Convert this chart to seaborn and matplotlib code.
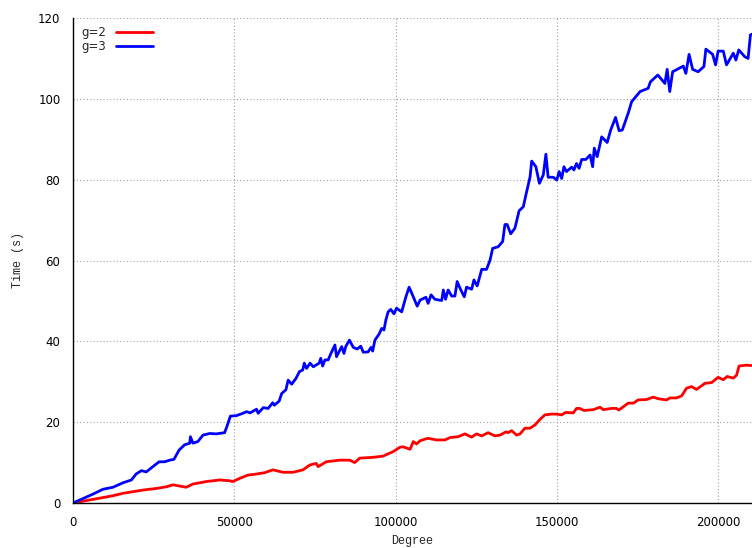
import numpy as np
import pandas as pd
import matplotlib
matplotlib.use("Agg")
import matplotlib.pyplot as plt
import seaborn as sns

# values
g2_degree = [0, 4100, 8300, 12400, 15500, 18600, 21700, 25800, 28900, 31000,
             33000, 35100, 37200, 41300, 45500, 48600, 49500, 51700, 54200, 56300,
             59400, 62000, 65100, 68200, 71300, 73400, 75400, 76000, 78500, 82700,
             85800, 87300, 88900, 93000, 96100, 99200, 101400, 102300, 103800, 104500,
             105500, 106500, 107600, 109100, 110100, 112700, 115300, 116900, 119400, 121500,
             123600, 125100, 126700, 128700, 130800, 132400, 134200, 134900, 136000, 137500,
             138600, 140100, 141700, 143200, 144800, 146300, 148400, 149900, 151500, 152700,
             155100, 156100, 157100, 158400, 161300, 163400, 164400, 167000, 168500, 169200,
             170600, 172100, 173700, 175200, 177800, 179900, 181400, 184000, 185100, 187100,
             188700, 190200, 191800, 193300, 195900, 198000, 200000, 201600, 202800, 204700,
             205700, 206500, 208800, 210500]
g2_time = [0, 0.6, 1.2, 1.8, 2.4, 2.8, 3.2, 3.6, 4.0, 4.5,
           4.2, 3.9, 4.7, 5.3, 5.7, 5.5, 5.3, 6.1, 6.9, 7.1,
           7.5, 8.2, 7.6, 7.6, 8.2, 9.4, 9.8, 9.0, 10.2, 10.6,
           10.6, 10.0, 11.1, 11.3, 11.6, 12.7, 13.8, 13.9, 13.5, 13.3,
           15.2, 14.6, 15.4, 15.8, 16.0, 15.6, 15.6, 16.2, 16.4, 17.1,
           16.3, 17.1, 16.6, 17.4, 16.6, 16.8, 17.6, 17.4, 17.9, 16.8,
           17.1, 18.5, 18.5, 19.3, 20.7, 21.8, 22.0, 22.0, 21.8, 22.4,
           22.3, 23.4, 23.4, 22.9, 23.1, 23.7, 23.1, 23.4, 23.4, 23.0,
           23.8, 24.7, 24.7, 25.5, 25.6, 26.2, 25.8, 25.5, 26.0, 26.0,
           26.5, 28.4, 28.8, 28.1, 29.6, 29.8, 31.1, 30.5, 31.3, 30.9,
           31.6, 33.9, 34.1, 34.0]

g3_degree = [0, 3100, 6200, 9300, 12400, 15500, 18100, 19600, 21200, 22700,
             24800, 26700, 28400, 30000, 31300, 32900, 34600, 36200, 36400, 37200,
             38700, 40300, 42400, 44400, 47000, 47700, 48800, 50600, 52700, 53800,
             54900, 56900, 57400, 59000, 60500, 61900, 62400, 63900, 64700, 66000,
             66700, 67800, 69100, 70200, 71200, 71700, 72400, 73500, 74500, 76300,
             76800, 77400, 78100, 79100, 79900, 81200, 81700, 83300, 84000, 84600,
             85700, 86900, 88100, 89200, 90000, 91500, 92400, 92900, 93600, 94900,
             95700, 96400, 97000, 97700, 98500, 99500, 100300, 101900, 103200, 104200,
             105500, 106700, 107600, 109400, 110100, 111000, 112200, 114300, 114800, 115500,
             116300, 117400, 118400, 119100, 120000, 121300, 122000, 123600, 124300, 125300,
             126700, 128200, 129300, 130100, 131800, 133200, 133900, 134600, 135700, 137000,
             138300, 139600, 140400, 141700, 142200, 143500, 144600, 145800, 146600, 147300,
             148900, 150000, 150700, 151500, 152200, 153000, 154600, 155300, 156100, 156900,
             157700, 159000, 160300, 161100, 161600, 162500, 163900, 165600, 166700, 168200,
             169300, 170300, 172100, 173200, 175800, 178300, 179000, 181300, 183500, 184200,
             185000, 185900, 189200, 190000, 191000, 192100, 193800, 195600, 196200, 198300,
             199200, 200000, 201600, 202600, 204700, 205500, 206400, 208300, 209300, 210000,
             210500]
g3_time = [0, 1.1, 2.2, 3.4, 3.9, 5.0, 5.7, 7.2, 8.0, 7.7,
           9.0, 10.2, 10.2, 10.6, 10.8, 13.1, 14.4, 14.8, 16.4, 14.8,
           15.2, 16.8, 17.2, 17.1, 17.4, 18.9, 21.5, 21.6, 22.2, 22.6,
           22.3, 23.2, 22.2, 23.6, 23.4, 24.8, 24.2, 25.2, 27.1, 28.0,
           30.4, 29.4, 30.8, 32.5, 32.9, 34.6, 33.3, 34.6, 33.7, 34.6,
           35.8, 33.9, 35.4, 35.4, 36.9, 39.1, 36.2, 38.7, 37.0, 38.8,
           40.3, 38.5, 38.1, 38.8, 37.3, 37.4, 38.5, 37.6, 40.3, 41.8,
           43.2, 42.8, 45.3, 47.3, 47.9, 46.8, 48.2, 47.3, 51.0, 53.4,
           51.0, 48.7, 50.2, 50.9, 49.4, 51.5, 50.4, 50.1, 52.7, 50.4,
           52.7, 51.2, 51.2, 54.8, 53.1, 51.0, 53.4, 52.9, 55.2, 53.7,
           57.8, 57.8, 60.1, 63.0, 63.4, 64.7, 68.9, 68.9, 66.6, 68.0,
           72.3, 73.3, 76.2, 80.7, 84.6, 83.2, 79.1, 81.2, 86.3, 80.6,
           80.6, 79.9, 82.0, 80.3, 83.2, 82.0, 83.1, 82.4, 84.0, 82.8,
           85.0, 85.0, 86.1, 83.2, 87.8, 85.7, 90.6, 89.2, 92.3, 95.4,
           92.1, 92.3, 96.4, 99.3, 101.8, 102.6, 104.2, 105.9, 103.8, 107.3,
           101.8, 106.7, 108.1, 106.3, 111.0, 107.3, 106.7, 108.0, 112.3, 111.0,
           108.4, 111.8, 111.8, 108.4, 111.3, 109.6, 112.1, 110.4, 110.0, 115.8,
           116.0]

x_ticks = [0, 50000, 100000, 150000, 200000]
y_ticks = [0, 20, 40, 60, 80, 100, 120]

df = pd.concat([
    pd.DataFrame({"Degree": g2_degree, "Time": g2_time, "g": "g=2"}),
    pd.DataFrame({"Degree": g3_degree, "Time": g3_time, "g": "g=3"}),
])

sns.set_style("white")
plt.rcParams["font.family"] = ["DejaVu Sans"]

fig = plt.figure(figsize=(7.52, 5.48), dpi=100)
ax = fig.add_axes([73 / 752, 1 - 503 / 548, 1 - 73 / 752, (503 - 18) / 548])

sns.lineplot(data=df, x="Degree", y="Time", hue="g", sort=False,
             palette={"g=2": "#ff0000", "g=3": "#0000ff"}, linewidth=2, ax=ax)

ax.set_xlim(0, 210500)
ax.set_ylim(0, 120)
ax.set_xticks(x_ticks)
ax.set_yticks(y_ticks)
ax.tick_params(direction="out", length=4, width=1, labelsize=8.5, colors="black", pad=5)
ax.grid(True, linestyle=(0, (1, 2)), color="#a0a0a0", linewidth=0.8)
for side in ["top", "right"]:
    ax.spines[side].set_visible(False)
for side in ["left", "bottom"]:
    ax.spines[side].set_color("black")
    ax.spines[side].set_linewidth(1)

ax.set_xlabel("Degree", fontfamily="Liberation Mono", fontsize=8.5, labelpad=5)
ax.set_ylabel("Time (s)", fontfamily="Liberation Mono", fontsize=8.5, labelpad=10)

ax.legend(loc="upper left", markerfirst=False, frameon=False, fontsize=8.5,
          handlelength=3.2, borderaxespad=0.3, labelspacing=0.1,
          bbox_to_anchor=(0.0, 1.0))

fig.savefig("out.png", dpi=100)
